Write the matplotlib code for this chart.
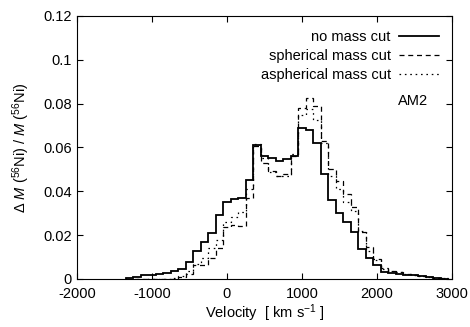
import numpy as np
import matplotlib
matplotlib.use('Agg')
import matplotlib.pyplot as plt

plt.rcParams['font.family'] = ['Liberation Sans', 'DejaVu Sans']
plt.rcParams['mathtext.fontset'] = 'custom'
plt.rcParams['mathtext.rm'] = 'Liberation Sans'
plt.rcParams['mathtext.it'] = 'Liberation Sans:italic'
plt.rcParams['font.size'] = 10.5
plt.rcParams['axes.unicode_minus'] = False

# velocity bin centres [km/s], bins are 100 km/s wide
vel_centers = np.arange(-1300, 3000, 100)

no_cut = [0.0003, 0.001, 0.0018, 0.002, 0.0023, 0.0028, 0.0035, 0.0045, 0.0078,
          0.0127, 0.0167, 0.0212, 0.029, 0.035, 0.0366, 0.037, 0.0453,
          0.061, 0.056, 0.055, 0.0537, 0.0548, 0.056,
          0.0687, 0.068, 0.0622, 0.0477,
          0.0359, 0.0302, 0.0258, 0.0216, 0.0137, 0.0096, 0.0062, 0.0033,
          0.0028, 0.0024, 0.002, 0.0016, 0.0012, 0.0008, 0.0005, 0.0002]

spherical_cut = [0, 0, 0, 0, 0, 0, 0.0002, 0.0008, 0.0025,
                 0.0062, 0.0066, 0.0095, 0.014, 0.0235, 0.0245, 0.024, 0.037,
                 0.0605, 0.053, 0.0495, 0.047, 0.048, 0.056,
                 0.078, 0.0825, 0.079, 0.063,
                 0.050, 0.0445, 0.039, 0.033, 0.0215, 0.0145, 0.009, 0.005,
                 0.0035, 0.003, 0.0025, 0.002, 0.0015, 0.001, 0.0006, 0.0003]

aspherical_cut = [0, 0, 0, 0, 0, 0, 0.0003, 0.0012, 0.0035,
                  0.007, 0.0095, 0.014, 0.018, 0.026, 0.0285, 0.0306, 0.041,
                  0.0615, 0.055, 0.0487, 0.0468, 0.047, 0.057,
                  0.075, 0.0775, 0.0725, 0.062,
                  0.047, 0.041, 0.035, 0.031, 0.022, 0.013, 0.0085, 0.0045,
                  0.0035, 0.003, 0.0025, 0.002, 0.0015, 0.001, 0.0006, 0.0003]

edges = np.append(vel_centers - 50, vel_centers[-1] + 50)

fig = plt.figure(figsize=(4.7, 3.27), dpi=100)
ax = fig.add_axes([0.1638, 0.1468, 0.7979, 0.8043])

ax.stairs(no_cut, edges, color='black', lw=1.3, label='no mass cut')
ax.stairs(spherical_cut, edges, color='black', lw=0.9,
          linestyle=(0, (4, 3)), label='spherical mass cut')
ax.stairs(aspherical_cut, edges, color='black', lw=0.9,
          linestyle=(0, (1.3, 3)), label='aspherical mass cut')

ax.set_xlim(-2000, 3000)
ax.set_ylim(0, 0.12)
ax.set_xticks([-2000, -1000, 0, 1000, 2000, 3000])
ax.set_yticks([0, 0.02, 0.04, 0.06, 0.08, 0.1, 0.12])
ax.set_yticklabels(['0', '0.02', '0.04', '0.06', '0.08', '0.1', '0.12'])
ax.tick_params(direction='in', top=True, right=True, length=4, width=0.8)
ax.tick_params(axis='x', pad=6)

ax.set_xlabel(r'Velocity  [ km s$^{-1}$ ]', labelpad=1)
ax.set_ylabel(r'$\Delta\ M\ (^{56}$Ni) / $M\ (^{56}$Ni)', labelpad=8)

ax.legend(loc='upper right', bbox_to_anchor=(0.965, 0.945), frameon=False,
          markerfirst=False, handlelength=2.75, handletextpad=0.55,
          labelspacing=0.34, borderpad=0, borderaxespad=0)

ax.text(0.936, 0.677, 'AM2', transform=ax.transAxes, ha='right', va='center')

fig.savefig('out.png', dpi=100)
